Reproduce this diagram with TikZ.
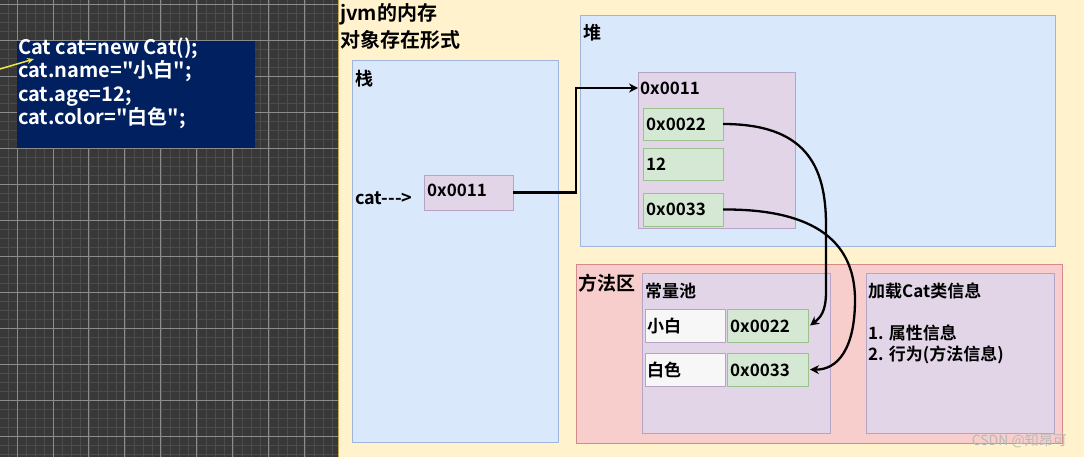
\documentclass[tikz,border=0pt]{standalone}
\usepackage{fontspec}
\setmainfont{Noto Sans CJK SC}[BoldFont={Noto Sans CJK SC Bold}]
\newfontfamily\plainfont{Noto Sans CJK SC}[BoldFont={Noto Sans CJK SC Bold}]
\usetikzlibrary{arrows.meta,calc}
\definecolor{bgdark}{HTML}{383838}
\definecolor{gridmin}{HTML}{4C4C4C}
\definecolor{gridmaj}{HTML}{8C8C8C}
\definecolor{beige}{HTML}{FFF2CC}
\definecolor{navy}{HTML}{002060}
\definecolor{bluef}{HTML}{DAE8FC}
\definecolor{blued}{HTML}{9FB6DA}
\definecolor{purpf}{HTML}{E1D5E7}
\definecolor{purpd}{HTML}{B7A3C6}
\definecolor{greenf}{HTML}{D5E8D4}
\definecolor{greend}{HTML}{9CC08E}
\definecolor{redf}{HTML}{F8CECC}
\definecolor{redd}{HTML}{D38A88}
\definecolor{whitef}{HTML}{F7F7F7}
\tikzset{
  box/.style={draw, line width=0.8pt, inner sep=0pt, outer sep=0pt, anchor=north west},
  bluebox/.style={box, fill=bluef, draw=blued},
  purpbox/.style={box, fill=purpf, draw=purpd},
  greenbox/.style={box, fill=greenf, draw=greend},
  redbox/.style={box, fill=redf, draw=redd},
  whitebox/.style={box, fill=whitef, draw=purpd},
  lbl/.style={anchor=west, inner sep=0pt, font=\fontsize{17}{20}\selectfont\bfseries, text=black},
  conn/.style={draw=black, line width=2.3pt, -{Stealth[length=9pt,width=9pt]}},
}
\begin{document}
\begin{tikzpicture}[x=1pt,y=-1pt]
\useasboundingbox (0,0) rectangle (1084,457);
% dark grid panel
\fill[bgdark] (0,0) rectangle (338,457);
\foreach \i in {0,...,38} {
  \draw[gridmin, line width=0.5pt] ({-1+9*\i},0) -- ({-1+9*\i},457);
}
\foreach \i in {0,...,51} {
  \draw[gridmin, line width=0.5pt] (0,{4+9*\i}) -- (338,{4+9*\i});
}
\foreach \i in {0,...,9} {
  \draw[gridmaj, line width=0.8pt] ({17+35.9*\i},0) -- ({17+35.9*\i},457);
}
\foreach \i in {0,...,12} {
  \draw[gridmaj, line width=0.8pt] (0,{4+36*\i}) -- (338,{4+36*\i});
}
% beige region
\fill[beige] (338,0) rectangle (1084,457);
\draw[color={rgb,255:red,200;green,168;blue,80}, line width=1pt] (338.5,0) -- (338.5,457);

% code box
\node[box, fill=navy, draw=navy, minimum width=237pt, minimum height=106pt] (code) at (17,41) {};
\node[anchor=north west, inner sep=0pt, align=left, text=white,
      font=\plainfont\fontsize{20}{23.4}\selectfont\bfseries] (codetext) at (18,37.5)
  {Cat cat=new Cat();\\cat.name="小白";\\cat.age=12;\\cat.color="白色";};
\coordinate (yfrom) at (0,69);
\coordinate (yto) at (34,59);
\draw[color={rgb,255:red,240;green,230;blue,70}, line width=1.5pt, -{Stealth[length=7pt,width=6pt]}] (yfrom) -- (yto);

% titles
\node[lbl, font=\fontsize{20}{24}\selectfont\bfseries] (title1) at (340,14) {jvm的内存};
\node[lbl, font=\fontsize{20}{24}\selectfont\bfseries] (title2) at (340,40) {对象存在形式};

% stack
\node[bluebox, minimum width=206pt, minimum height=382pt] (stack) at (352,60) {};
\node[lbl, font=\fontsize{18}{22}\selectfont\bfseries] (stacklbl) at (355,79) {栈};
\node[lbl, font=\plainfont\fontsize{18}{20}\selectfont\bfseries] (catlbl) at (355,198) {cat--->};
\node[purpbox, minimum width=89pt, minimum height=35pt] (s0011) at (424,175) {};
\node[lbl] (s0011t) at (427,190) {0x0011};

% heap
\node[bluebox, minimum width=475pt, minimum height=231pt] (heap) at (580,15) {};
\node[lbl, font=\fontsize{18}{22}\selectfont\bfseries] (heaplbl) at (583,33) {堆};
\node[purpbox, minimum width=157pt, minimum height=156pt] (obj) at (638,72) {};
\node[lbl] (objlbl) at (640,88) {0x0011};
\node[greenbox, minimum width=80pt, minimum height=32pt] (g1) at (643,108) {};
\node[lbl] at (646,124) {0x0022};
\node[greenbox, minimum width=80pt, minimum height=32pt] (g2) at (643,148) {};
\node[lbl] at (646,164) {12};
\node[greenbox, minimum width=80pt, minimum height=33pt] (g3) at (643,193) {};
\node[lbl] at (646,209.5) {0x0033};

% method area
\node[redbox, minimum width=486pt, minimum height=179pt] (method) at (576,264) {};
\node[lbl, font=\fontsize{19}{23}\selectfont\bfseries] (methodlbl) at (578,283) {方法区};
\node[purpbox, minimum width=188pt, minimum height=160pt] (pool) at (642,273) {};
\node[lbl] (poollbl) at (645,291) {常量池};
\node[whitebox, minimum width=80pt, minimum height=33pt] (w1) at (645,309) {};
\node[lbl] at (647,326) {小白};
\node[greenbox, minimum width=81pt, minimum height=33pt] (p1) at (727,309) {};
\node[lbl] at (730,326) {0x0022};
\node[whitebox, minimum width=80pt, minimum height=33pt] (w2) at (645,353) {};
\node[lbl] at (647,370) {白色};
\node[greenbox, minimum width=81pt, minimum height=33pt] (p2) at (727,353) {};
\node[lbl] at (730,370) {0x0033};
\node[purpbox, minimum width=188pt, minimum height=160pt] (cls) at (866,273) {};
\node[lbl] (clslbl) at (868,291) {加载Cat类信息};
\node[lbl] (cls1) at (868,333) {1. 属性信息};
\node[lbl] (cls2) at (868,355) {2. 行为(方法信息)};

% watermark
\node[anchor=east, inner sep=0pt, text={rgb,255:red,185;green,185;blue,185}, font=\fontsize{14}{16}\selectfont] (wm) at (1067,441) {CSDN @知昂可};

% connectors
\coordinate (objin) at ($(obj.north west)+(0,16)$);
\draw[conn] (s0011.east) -- ++(63,0) |- (objin);
\draw[conn] (g1.east) .. controls (805,124) and (826,165) .. (826,225) -- (826,292) .. controls (826,312) and (820,318) .. ($(p1.east)+(2,0)$);
\draw[conn] (g3.east) .. controls (805,209) and (855,235) .. (855,300) .. controls (855,348) and (838,370) .. ($(p2.east)+(2,0)$);
\end{tikzpicture}
\end{document}
